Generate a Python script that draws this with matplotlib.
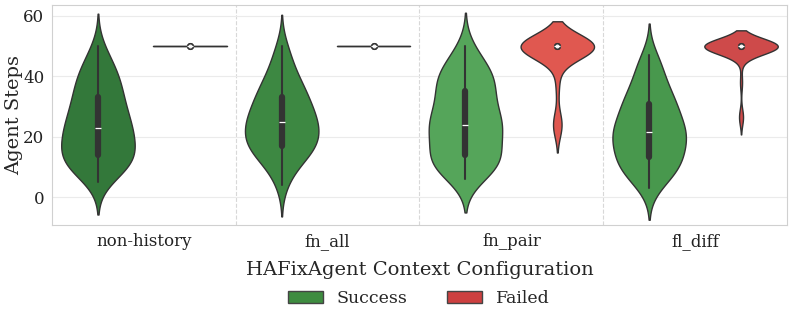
import matplotlib
matplotlib.use("Agg")
import matplotlib.pyplot as plt
from matplotlib.patches import Patch
import pandas as pd
import seaborn as sns

configs = ["non-history", "fn_all", "fn_pair", "fl_diff"]
outcomes = ["Success", "Failed"]

# agent steps per run
success_steps = {
    "non-history": [5, 7, 8, 9, 10, 10, 11, 11, 12, 12, 13, 13, 14, 14, 15, 16, 17, 17, 18, 19, 19,
                    20, 21, 21, 22, 23, 23, 24, 24, 25, 26, 27, 28, 29, 29, 30, 31, 32, 33, 34, 35,
                    36, 37, 38, 39, 40, 41, 42, 44, 45, 47, 50],
    "fn_all": [4, 8, 10, 12, 13, 14, 15, 16, 16, 17, 17, 18, 19, 20, 20, 21, 22, 22, 23, 24,
               25, 25, 26, 27, 27, 28, 29, 30, 31, 32, 33, 34, 35, 36, 37, 38, 40, 42, 44, 47, 50],
    "fn_pair": [6, 7, 8, 9, 9, 10, 11, 11, 12, 12, 13, 13, 14, 14, 15, 16, 18, 19, 19,
                20, 21, 22, 23, 23, 24, 24, 24, 25, 25, 26, 27, 28, 29, 30, 31, 32, 33, 34, 34,
                35, 37, 38, 39, 39, 40, 40, 41, 42, 43, 44, 46, 48, 50],
    "fl_diff": [3, 5, 6, 7, 8, 9, 10, 10, 11, 11, 12, 12, 13, 14, 15, 16, 17, 17, 18, 19, 19,
                20, 20, 21, 21, 22, 22, 23, 24, 24, 25, 26, 27, 28, 29, 29, 30, 31, 32, 33, 34, 34,
                35, 37, 39, 40, 42, 44, 45, 47],
}
failed_steps = {
    "non-history": [50] * 20,
    "fn_all": [50] * 20,
    "fn_pair": [23, 24, 25, 37, 45, 48] + [50] * 24,
    "fl_diff": [26, 27, 38, 46, 48] + [50] * 35,
}

success_colors = ["#33783a", "#3d8842", "#55a55a", "#48984d"]
failed_colors = ["#d04040", "#d04040", "#e05850", "#ce4a4a"]
legend_colors = ["#3e8c40", "#cd4040"]

rows = []
for c in configs:
    for v in success_steps[c]:
        rows.append((c, "Success", v))
    for v in failed_steps[c]:
        rows.append((c, "Failed", v))
df = pd.DataFrame(rows, columns=["config", "outcome", "steps"])

sns.set_style("whitegrid")
plt.rcParams["font.family"] = ["DejaVu Serif"]

fig = plt.figure(figsize=(7.93, 3.23), dpi=100)
ax = fig.add_axes([0.0656, 0.3034, 0.9268, 0.6811])

for i, c in enumerate(configs):
    sub = df[df["config"] == c]
    sns.violinplot(data=sub, x="config", y="steps", hue="outcome", order=configs,
                   hue_order=outcomes, palette={"Success": success_colors[i], "Failed": failed_colors[i]},
                   saturation=1, inner="box", density_norm="width", width=1.0, gap=0.2,
                   linewidth=1, linecolor="#333333", legend=False, ax=ax)

# a box with zero height (all runs at the cap) gets drawn as a ringed dot
for ln in ax.lines:
    y = ln.get_ydata()
    if ln.get_linewidth() >= 4 and len(y) == 2 and y[0] == y[1]:
        ln.set_marker("o")
        ln.set_markersize(4)
        ln.set_markerfacecolor("#f0f0f0")
        ln.set_markeredgecolor("#333333")
        ln.set_markeredgewidth(1.1)

ax.set_xlim(-0.5, 3.5)
ax.set_ylim(-9.2, 63.6)
ax.set_yticks([0, 20, 40, 60])
ax.grid(axis="x", visible=False)
ax.grid(axis="y", color="#ebebeb", linewidth=0.8)
for xb in [0.5, 1.5, 2.5]:
    ax.axvline(xb, color="#d8d8d8", linestyle="--", linewidth=0.8, zorder=0)
for s in ax.spines.values():
    s.set_color("#d0d0d0")

ax.tick_params(axis="both", labelsize=12, colors="#222222", pad=2)
ax.set_xlabel("HAFixAgent Context Configuration", fontsize=14, labelpad=8)
ax.set_ylabel("Agent Steps", fontsize=14)
ax.yaxis.set_label_coords(-0.039, 0.5)

handles = [Patch(facecolor=legend_colors[k], edgecolor="#444444", label=outcomes[k]) for k in range(2)]
fig.legend(handles=handles, loc="lower center", ncol=2, frameon=False, fontsize=12.5,
           bbox_to_anchor=(0.528, 0.0), handlelength=2.0, columnspacing=2.3)

fig.savefig("out.png", dpi=100)
